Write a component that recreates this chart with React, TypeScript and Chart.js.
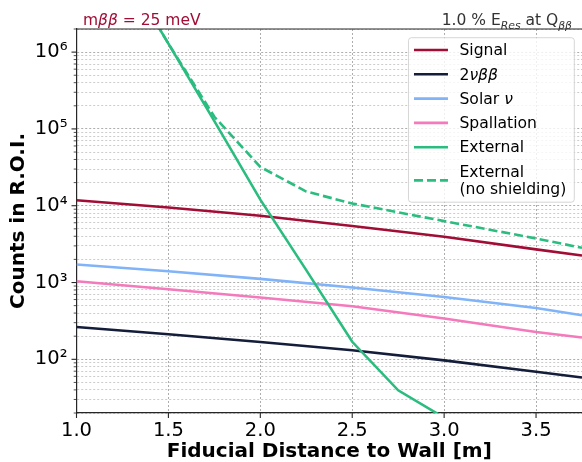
import React, { useEffect, useRef } from "react";
import { Chart, registerables } from "chart.js";

Chart.register(...registerables);

const FONT = '"DejaVu Sans", sans-serif';

// ---- data ----
const distances = [1.0, 1.5, 2.0, 2.5, 3.0, 3.5, 3.75];
const signalCounts = [11800, 9500, 7400, 5450, 3950, 2700, 2250];
const twoNuCounts = [264, 212, 168, 131, 97, 69, 58];
const solarCounts = [1720, 1400, 1115, 861, 649, 467, 375];
const spallationCounts = [1040, 818, 637, 491, 340, 227, 192];
const externalDistances = [1.0, 1.25, 1.5, 1.75, 2.0, 2.25, 2.5, 2.75, 3.0];
const externalCounts = [1.3e8, 1.3e7, 1.29e6, 1.26e5, 1.2e4, 1450, 169, 39.5, 17.4];
const noShieldDistances = [1.0, 1.25, 1.5, 1.75, 2.0, 2.25, 2.5, 3.0, 3.5, 3.75];
const noShieldCounts = [1.3e8, 1.3e7, 1.29e6, 1.44e5, 3.2e4, 1.53e4, 1.07e4, 6300, 3750, 2830];

const seriesLabels = ["Signal", "2νββ", "Solar ν", "Spallation", "External", "External\n(no shielding)"];
const seriesColors = ["#a10d35", "#141d3a", "#80b3f7", "#f47abc", "#2bbd7f", "#2bbd7f"];

const xTickValues = [1.0, 1.5, 2.0, 2.5, 3.0, 3.5];
const xMin = 1.0;
const xMax = 3.75;
const yMin = 20;
const yMax = 2e6;

const xTitle = "Fiducial Distance to Wall [m]";
const yTitle = "Counts in R.O.I.";
const leftNote = "mββ = 25 meV";

const SUP = "⁰¹²³⁴⁵⁶⁷⁸⁹";

function pts(xs: number[], ys: number[]) {
  return xs.map((x, i) => ({ x, y: ys[i] }));
}

type Seg = { text: string; italic?: boolean; sub?: boolean };

function greekSegs(text: string): Seg[] {
  const segs: Seg[] = [];
  for (const ch of text) {
    const it = /[α-ω]/.test(ch);
    const last = segs[segs.length - 1];
    if (last && !!last.italic === it) last.text += ch;
    else segs.push({ text: ch, italic: it });
  }
  return segs;
}

function segFont(s: Seg, size: number) {
  return `${s.italic ? "italic " : ""}${s.sub ? size * 0.7 : size}px ${FONT}`;
}

function richWidth(ctx: CanvasRenderingContext2D, segs: Seg[], size: number) {
  let w = 0;
  for (const s of segs) {
    ctx.font = segFont(s, size);
    w += ctx.measureText(s.text).width;
  }
  return w;
}

function drawRich(
  ctx: CanvasRenderingContext2D,
  segs: Seg[],
  x: number,
  y: number,
  size: number,
  color: string,
  align: "left" | "right",
  baseline: CanvasTextBaseline = "alphabetic"
) {
  const total = richWidth(ctx, segs, size);
  let cx = align === "right" ? x - total : x;
  ctx.fillStyle = color;
  ctx.textAlign = "left";
  ctx.textBaseline = baseline;
  for (const s of segs) {
    ctx.font = segFont(s, size);
    ctx.fillText(s.text, cx, y + (s.sub ? size * 0.28 : 0));
    cx += ctx.measureText(s.text).width;
  }
}

const decorPlugin = {
  id: "decor",
  afterDraw(chart: any) {
    const { ctx, chartArea } = chart;
    const xs = chart.scales.x;
    const ys = chart.scales.y;
    ctx.save();
    // top frame line
    ctx.strokeStyle = "#262626";
    ctx.lineWidth = 1.2;
    ctx.beginPath();
    ctx.moveTo(chartArea.left, chartArea.top);
    ctx.lineTo(chartArea.right, chartArea.top);
    ctx.stroke();
    // tick marks
    ctx.lineWidth = 1.1;
    for (const t of xs.ticks) {
      const px = xs.getPixelForValue(t.value);
      ctx.beginPath();
      ctx.moveTo(px, chartArea.bottom);
      ctx.lineTo(px, chartArea.bottom + 5);
      ctx.stroke();
    }
    for (const t of ys.ticks) {
      const py = ys.getPixelForValue(t.value);
      const len = t.major ? 5 : 2.8;
      ctx.lineWidth = t.major ? 1.1 : 0.8;
      ctx.beginPath();
      ctx.moveTo(chartArea.left, py);
      ctx.lineTo(chartArea.left - len, py);
      ctx.stroke();
    }
    // annotations above the plot
    const size = 15.5;
    drawRich(ctx, greekSegs(leftNote), chartArea.left + 6.5, chartArea.top - 4, size, "#a10d35", "left");
    const rightSegs: Seg[] = [
      { text: "1.0 % E" },
      { text: "Res", italic: true, sub: true },
      { text: " at Q" },
      { text: "ββ", italic: true, sub: true },
    ];
    drawRich(ctx, rightSegs, chartArea.right - 10, chartArea.top - 4, size, "#333333", "right");

    // legend inside the plot
    const lsize = 15.6;
    const datasets = chart.data.datasets;
    let maxW = 0;
    for (const ds of datasets) {
      for (const line of String(ds.label).split("\n")) {
        maxW = Math.max(maxW, richWidth(ctx, greekSegs(line), lsize));
      }
    }
    const padL = 5.5, handleLen = 34, gap = 11.5, padR = 8;
    const rowStep = 24.3, lineStep = 17.7;
    const boxW = padL + handleLen + gap + maxW + padR;
    const boxRight = chartArea.right - 7.7;
    const boxLeft = boxRight - boxW;
    const boxTop = chartArea.top + 8.7;
    let cy = boxTop + 12.3;
    const rows: { y: number; lines: string[]; ds: any }[] = [];
    for (const ds of datasets) {
      const lines = String(ds.label).split("\n");
      rows.push({ y: cy, lines, ds });
      cy += rowStep + (lines.length - 1) * lineStep;
    }
    const lastRow = rows[rows.length - 1];
    const boxBottom = lastRow.y + (lastRow.lines.length - 1) * lineStep + 13;
    ctx.beginPath();
    ctx.roundRect(boxLeft, boxTop, boxW, boxBottom - boxTop, 3);
    ctx.fillStyle = "rgba(255,255,255,0.8)";
    ctx.fill();
    ctx.strokeStyle = "rgba(204,204,204,0.8)";
    ctx.lineWidth = 1;
    ctx.stroke();
    for (const r of rows) {
      const midY = r.y + ((r.lines.length - 1) * lineStep) / 2;
      ctx.save();
      ctx.strokeStyle = r.ds.borderColor;
      ctx.lineWidth = r.ds.borderWidth;
      ctx.setLineDash(r.ds.borderDash || []);
      ctx.beginPath();
      ctx.moveTo(boxLeft + padL, midY);
      ctx.lineTo(boxLeft + padL + handleLen, midY);
      ctx.stroke();
      ctx.restore();
      r.lines.forEach((line, i) => {
        drawRich(ctx, greekSegs(line), boxLeft + padL + handleLen + gap, r.y + i * lineStep + 1.2, lsize, "#000000", "left", "middle");
      });
    }
    ctx.restore();
  },
};

export default function App() {
  const canvasRef = useRef<HTMLCanvasElement | null>(null);

  useEffect(() => {
    document.body.style.margin = "0";
    const canvas = canvasRef.current;
    if (!canvas) return;

    const seriesData = [
      pts(distances, signalCounts),
      pts(distances, twoNuCounts),
      pts(distances, solarCounts),
      pts(distances, spallationCounts),
      pts(externalDistances, externalCounts),
      pts(noShieldDistances, noShieldCounts),
    ];

    const datasets = seriesData.map((data, i) => ({
      label: seriesLabels[i],
      data,
      borderColor: seriesColors[i],
      backgroundColor: seriesColors[i],
      borderWidth: 2.6,
      borderDash: i === 5 ? [9, 4] : [],
      pointRadius: 0,
      fill: false,
      tension: 0,
      order: i === 4 || i === 5 ? 0 : 1,
    }));

    const chart = new Chart(canvas, {
      type: "line",
      data: { datasets },
      plugins: [decorPlugin],
      options: {
        animation: false,
        responsive: false,
        events: [],
        layout: { padding: { top: 29, right: 0, left: 0, bottom: 0 } },
        plugins: {
          legend: { display: false },
          tooltip: { enabled: false },
        },
        scales: {
          x: {
            type: "linear",
            min: xMin,
            max: xMax,
            afterBuildTicks: (scale: any) => {
              scale.ticks = xTickValues.map((v) => ({ value: v }));
            },
            afterFit: (scale: any) => {
              scale.height = 49;
            },
            ticks: {
              autoSkip: false,
              maxRotation: 0,
              padding: 6,
              color: "#000000",
              font: { family: FONT, size: 19.5 },
              callback: (v: any) => Number(v).toFixed(1),
            },
            grid: {
              drawTicks: false,
              color: "rgba(0,0,0,0.32)",
              lineWidth: 1,
            },
            border: { display: true, color: "#262626", width: 1.2, dash: [2, 2] },
            title: {
              display: true,
              text: xTitle,
              color: "#000000",
              font: { family: FONT, size: 20, weight: "bold", lineHeight: 1.0 },
              padding: { top: 0, bottom: 0 },
            },
          },
          y: {
            type: "logarithmic",
            min: yMin,
            max: yMax,
            afterBuildTicks: (scale: any) => {
              const ticks: any[] = [];
              for (let e = 1; e <= 6; e++) {
                for (let m = 1; m <= 9; m++) {
                  const v = m * Math.pow(10, e);
                  if (v >= yMin && v <= yMax) ticks.push({ value: v, major: m === 1 });
                }
              }
              scale.ticks = ticks;
            },
            afterFit: (scale: any) => {
              scale.width = 76.5;
            },
            ticks: {
              autoSkip: false,
              padding: 9,
              color: "#000000",
              font: { family: FONT, size: 19.5 },
              callback: (v: any) => {
                const lg = Math.log10(Number(v));
                if (Math.abs(lg - Math.round(lg)) > 1e-9) return "";
                return "10" + String(Math.round(lg)).split("").map((d) => SUP[Number(d)]).join("");
              },
            },
            grid: {
              drawTicks: false,
              color: (ctx: any) => (ctx.tick && ctx.tick.major ? "rgba(0,0,0,0.32)" : "rgba(0,0,0,0.25)"),
              lineWidth: (ctx: any) => (ctx.tick && ctx.tick.major ? 1 : 0.8),
            },
            border: { display: true, color: "#262626", width: 1.2, dash: [2, 2] },
            title: {
              display: true,
              text: yTitle,
              color: "#000000",
              font: { family: FONT, size: 20, weight: "bold", lineHeight: 1.2 },
              padding: { top: 6.5, bottom: 0 },
            },
          },
        },
      } as any,
    });

    return () => {
      chart.destroy();
    };
  }, []);

  return (
    <div style={{ position: "absolute", left: 0, top: 0, width: 582, height: 462, background: "#ffffff" }}>
      <canvas ref={canvasRef} width={582} height={462} style={{ display: "block" }} />
    </div>
  );
}
